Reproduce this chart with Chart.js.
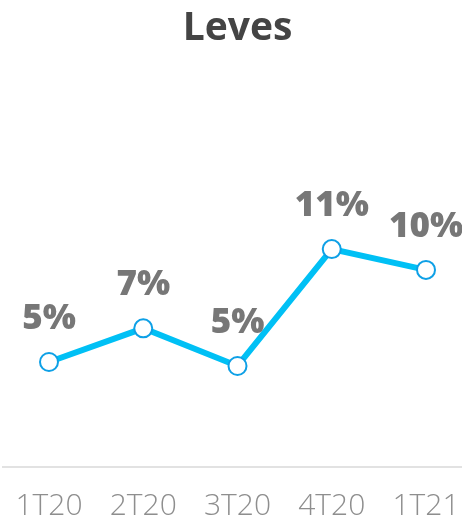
<!DOCTYPE html>
<html>
<head>
<meta charset="utf-8">
<script src="https://cdn.jsdelivr.net/npm/chart.js@4/dist/chart.umd.min.js"></script>
<style>
html,body{margin:0;padding:0;background:#fff;}
#wrap{width:462px;height:522px;position:relative;}
</style>
</head>
<body>
<div id="wrap"><canvas id="c" width="462" height="522"></canvas></div>
<script>
const categories = ["1T20", "2T20", "3T20", "4T20", "1T21"];
const values = [5.3, 7.0, 5.1, 11.0, 9.95];
const titleText = "Leves";

const lineColor = "#00c0f5";
const pointBorder = "#0ea0e6";

const valueLabels = {
  id: "valueLabels",
  afterDatasetsDraw(chart) {
    const ctx = chart.ctx;
    const meta = chart.getDatasetMeta(0);
    ctx.save();
    ctx.font = "800 35px 'Open Sans'";
    ctx.fillStyle = "#777777";
    ctx.textAlign = "center";
    ctx.textBaseline = "middle";
    meta.data.forEach((pt, i) => {
      ctx.fillText(Math.round(values[i]) + "%", pt.x, pt.y - 43);
    });
    ctx.restore();
  }
};

const baseLine = {
  id: "baseLine",
  beforeDatasetsDraw(chart) {
    const ctx = chart.ctx;
    const y = chart.chartArea.bottom;
    ctx.save();
    ctx.strokeStyle = "#e2e2e2";
    ctx.lineWidth = 2;
    ctx.beginPath();
    ctx.moveTo(2, y);
    ctx.lineTo(chart.width, y);
    ctx.stroke();
    ctx.restore();
  }
};

new Chart(document.getElementById("c"), {
  type: "line",
  data: {
    labels: categories,
    datasets: [{
      data: values,
      borderColor: lineColor,
      borderWidth: 6,
      pointRadius: 9,
      pointHoverRadius: 9,
      pointBackgroundColor: "#ffffff",
      pointBorderColor: pointBorder,
      pointBorderWidth: 2,
      tension: 0,
      clip: false
    }]
  },
  options: {
    responsive: false,
    animation: false,
    events: [],
    layout: { padding: { left: 49, right: 36, top: 0, bottom: 0 } },
    plugins: {
      legend: { display: false },
      tooltip: { enabled: false },
      title: {
        display: true,
        text: titleText,
        color: "#444444",
        font: { family: "'Open Sans'", size: 39, weight: "bold" },
        padding: { top: 5, bottom: 19 }
      }
    },
    scales: {
      x: {
        offset: false,
        grid: { display: false, drawTicks: false },
        border: { display: false },
        ticks: {
          color: "#8e8e8e",
          padding: 21,
          maxRotation: 0,
          autoSkip: false,
          font: { family: "'Open Sans'", size: 30, weight: 300 }
        },
        afterFit(scale) {
          scale.height = 55;
          scale.paddingLeft = 0;
          scale.paddingRight = 0;
        }
      },
      y: {
        display: false,
        min: 0,
        max: 20
      }
    }
  },
  plugins: [baseLine, valueLabels]
});
</script>
</body>
</html>
